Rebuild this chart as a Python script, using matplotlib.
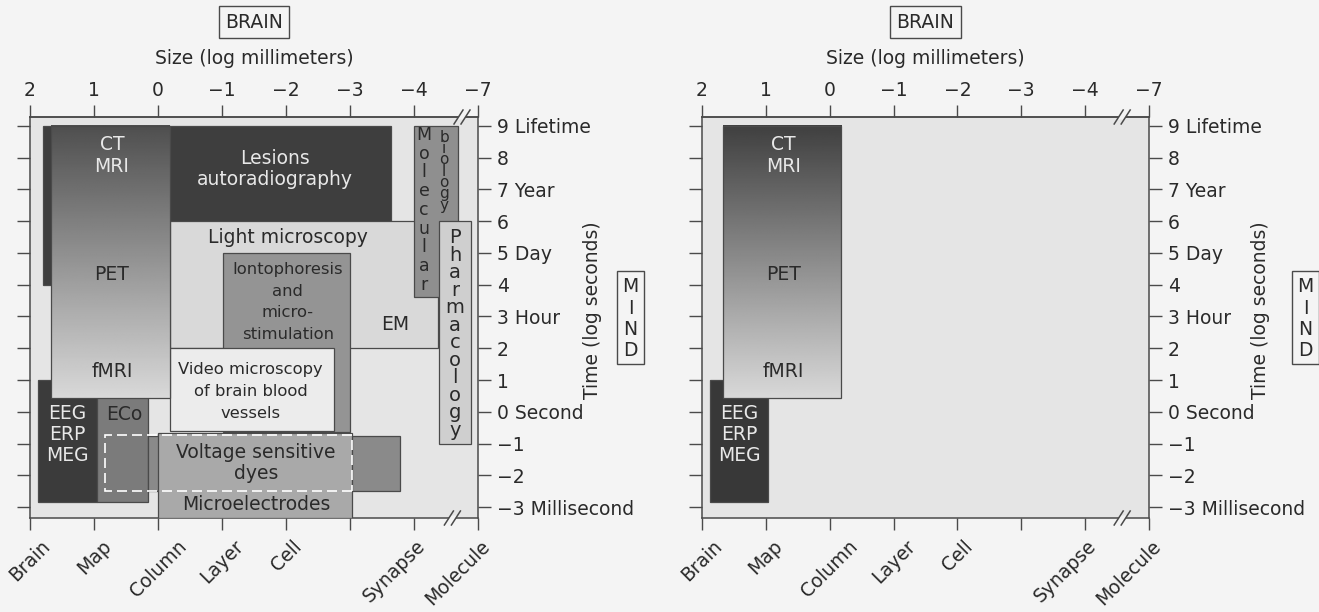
import numpy as np
import matplotlib
matplotlib.use("Agg")
import matplotlib.pyplot as plt
from matplotlib.patches import Rectangle, Polygon
from matplotlib.lines import Line2D
from matplotlib.font_manager import FontProperties
from matplotlib import transforms

plt.rcParams['font.family'] = ['DejaVu Sans']

# ---------------- data ----------------
size_ticks = [2, 1, 0, -1, -2, -3, -4, -5]
size_tick_labels = ['2', '1', '0', '\u22121', '\u22122', '\u22123', '\u22124', '\u22127']
scale_labels = ['Brain', 'Map', 'Column', 'Layer', 'Cell', '', 'Synapse', 'Molecule']
time_ticks = [9, 8, 7, 6, 5, 4, 3, 2, 1, 0, -1, -2, -3]
time_tick_labels = ['9 Lifetime', '8', '7 Year', '6', '5 Day', '4', '3 Hour', '2', '1',
                    '0 Second', '\u22121', '\u22122', '\u22123 Millisecond']

# techniques (left panel): size range (log mm) and time range (log s)
tech_names = ['Lesions', 'Light microscopy', 'EM', 'Molecular biology', 'Pharmacology',
              'Iontophoresis', 'Video microscopy', 'EEG', 'ECo', 'Voltage sensitive dyes',
              'Microelectrodes']
tech_size_max = [1.80, -0.18, -3.00, -4.00, -4.39, -1.02, -0.18, 1.87, 0.96, 0.16, 0.00]
tech_size_min = [-3.64, -4.375, -4.375, -4.69, -4.89, -3.00, -2.75, 0.96, 0.16, -3.78, -3.03]
tech_time_min = [4.0, 2.0, 2.0, 3.6, -1.0, -0.65, -0.62, -2.85, -2.85, -2.50, -3.35]
tech_time_max = [9.0, 6.0, 3.6, 9.0, 6.0, 5.0, 2.0, 1.0, 1.0, -0.76, -0.67]
tech_gray = ['#3e3e3e', '#d9d9d9', '#d9d9d9', '#8f8f8f', '#cfcfcf', '#949494', '#ececec',
             '#3b3b3b', '#7b7b7b', '#8a8a8a', '#a9a9a9']

# imaging (CT / MRI / PET / fMRI) range shared by both panels
imaging_size = (1.67, -0.18)
imaging_time = (0.43, 9.0)
# EEG range in the right panel
eeg_size = (1.87, 0.97)
eeg_time = (-2.85, 1.0)
# voltage-sensitive-dye dashed outline
vsd_outline_size = (0.83, -3.03)
vsd_outline_time = (-2.50, -0.73)

# ---------------- style ----------------
W, H = 1319, 612
FIG_BG = '#f4f4f4'
AX_BG = '#e5e5e5'
LINE = '#4a4a4a'
DARK_TXT = '#2a2a2a'
LIGHT_TXT = '#e8e8e8'
FS = 13.5
XLIM = (2, -5)
YLIM = (-3.346, 9.283)

fig = plt.figure(figsize=(W / 100, H / 100), dpi=100, facecolor=FIG_BG)
renderer = fig.canvas.get_renderer()

def spacing_for(fs, pitch_px):
    """matplotlib line pitch = descent + ascent * linespacing (metrics of 'lp')."""
    w, h, d = renderer.get_text_width_height_descent(
        'lp', FontProperties(family='DejaVu Sans', size=fs), ismath=False)
    return (pitch_px - d) / (h - d)

def make_axes(x0, x1):
    y_top, y_bot = 117, 518
    ax = fig.add_axes([x0 / W, (H - y_bot) / H, (x1 - x0) / W, (y_bot - y_top) / H])
    ax.set_facecolor(AX_BG)
    ax.set_xlim(*XLIM)
    ax.set_ylim(*YLIM)
    for s in ax.spines.values():
        s.set_color(LINE)
        s.set_linewidth(1.1)
    ax.set_xticks(size_ticks)
    ax.set_xticklabels(scale_labels, rotation=45, ha='center', fontsize=FS, color=DARK_TXT)
    ax.tick_params(axis='x', direction='out', length=8.5, width=1.0, color=LINE, pad=5)
    ax.set_yticks(time_ticks)
    ax.set_yticklabels(time_tick_labels, fontsize=FS, color=DARK_TXT)
    ax.tick_params(axis='y', direction='out', length=9.5, width=1.0, color=LINE,
                   left=True, right=True, labelleft=False, labelright=True, pad=4)
    for lab in ax.get_xticklabels()[-2:]:
        lab.set_transform(lab.get_transform() +
                          transforms.ScaledTranslation(-20 / 100, 0, fig.dpi_scale_trans))
    top = ax.secondary_xaxis('top')
    top.set_xticks(size_ticks)
    top.set_xticklabels(size_tick_labels, fontsize=FS, color=DARK_TXT)
    top.tick_params(axis='x', direction='out', length=8.5, width=1.0, color=LINE, pad=4)
    top.spines['top'].set_color(LINE)
    top.spines['top'].set_linewidth(1.1)
    return ax

def box(ax, s0, s1, t0, t1, fc, z, ec=LINE, lw=0.9, ls='-'):
    ax.add_patch(Rectangle((s1, t0), s0 - s1, t1 - t0, facecolor=fc, edgecolor=ec,
                           linewidth=lw, linestyle=ls, zorder=z))

def gradient_box(ax, s, t, z, top=0.29):
    grad = np.linspace(top, 0.85, 256).reshape(-1, 1)
    ax.imshow(grad, cmap='gray', vmin=0, vmax=1, aspect='auto', origin='upper',
              extent=(s[0], s[1], t[0], t[1]), interpolation='bilinear', zorder=z)
    box(ax, s[0], s[1], t[0], t[1], 'none', z + 0.1)
    ax.set_xlim(*XLIM)
    ax.set_ylim(*YLIM)

def text_lines(ax, x, y_base, txt, pitch_px=21.5, fs=FS, color=DARK_TXT):
    """One text object centred at x; y_base = baseline of the FIRST line (data units)."""
    n = txt.count('\n') + 1
    ppu = ax.bbox.height / (YLIM[1] - YLIM[0])
    y_last = y_base - (n - 1) * pitch_px / ppu      # va='baseline' anchors the last line
    ls = spacing_for(fs, pitch_px) if n > 1 else 1.2
    ax.text(x, y_last, txt, ha='center', va='baseline', multialignment='center',
            fontsize=fs, color=color, linespacing=ls, zorder=20)

def vertical(ax, x, y_base, word, pitch_px, fs):
    text_lines(ax, x, y_base, '\n'.join(word), pitch_px=pitch_px, fs=fs)

def break_mark(ax, x, yax):
    base = transforms.blended_transform_factory(ax.transData, ax.transAxes)
    px, py = base.transform((x, yax))
    tr = transforms.Affine2D().translate(px, py)
    gap = Polygon([(-5.1, -2.5), (1.9, -2.5), (5.1, 2.5), (-1.9, 2.5)], closed=True,
                  facecolor=FIG_BG, edgecolor='none', transform=tr, clip_on=False, zorder=50)
    fig.add_artist(gap)
    for c in (-3.5, 3.5):
        fig.add_artist(Line2D([c - 4.5, c + 4.5], [-7, 7], color=LINE, lw=1.1,
                              transform=tr, clip_on=False, zorder=51))

def decorations(x0, x1, time_x, mind_x0, mind_x1):
    cx = (x0 + x1) / 2
    fig.text(cx / W, 1 - 22 / H, 'BRAIN', ha='center', va='center', fontsize=FS,
             color=DARK_TXT,
             bbox=dict(boxstyle='square,pad=0.33', facecolor='none', edgecolor=LINE, lw=1.0))
    fig.text(cx / W, 1 - 58 / H, 'Size (log millimeters)', ha='center', va='center',
             fontsize=FS, color=DARK_TXT)
    fig.text(time_x / W, 1 - 310 / H, 'Time (log seconds)', ha='center', va='center',
             rotation=90, fontsize=FS, color=DARK_TXT)
    fig.add_artist(Rectangle((mind_x0 / W, 1 - 364 / H), (mind_x1 - mind_x0) / W, 93 / H,
                             transform=fig.transFigure, facecolor='none', edgecolor=LINE,
                             lw=1.0, clip_on=False))
    pitch = 21.5
    fig.text((mind_x0 + 13.5) / W, 1 - (292 + 3 * pitch) / H, 'M\nI\nN\nD', ha='center',
             va='baseline', fontsize=FS, color=DARK_TXT,
             linespacing=spacing_for(FS, pitch))

# ---------------- left panel ----------------
axL = make_axes(30, 478)
zorders = [1, 2, 1.5, 3, 4, 3, 4, 2, 2, 3, 4]
for i in range(len(tech_names)):
    ec = 'none' if tech_names[i] == 'EM' else LINE
    box(axL, tech_size_max[i], tech_size_min[i], tech_time_min[i], tech_time_max[i],
        tech_gray[i], zorders[i], ec=ec)
gradient_box(axL, imaging_size, imaging_time, 5, top=0.31)
box(axL, vsd_outline_size[0], vsd_outline_size[1], vsd_outline_time[0], vsd_outline_time[1],
    'none', 6, ec='white', lw=1.2, ls=(0, (6, 3)))

text_lines(axL, 0.72, 8.24, 'CT\nMRI', 22, color=LIGHT_TXT)
text_lines(axL, 0.72, 4.15, 'PET')
text_lines(axL, 0.72, 1.09, 'fMRI')
text_lines(axL, -1.83, 7.80, 'Lesions\nautoradiography', 21, color=LIGHT_TXT)
text_lines(axL, -2.03, 5.31, 'Light microscopy')
text_lines(axL, -2.03, 4.34, 'Iontophoresis\nand\nmicro-\nstimulation', 21.7, fs=11.8)
text_lines(axL, -3.70, 2.57, 'EM')
text_lines(axL, -1.45, 1.19, 'Video microscopy\nof brain blood\nvessels', 22, fs=11.8)
text_lines(axL, 1.42, -0.23, 'EEG\nERP\nMEG', 21, color=LIGHT_TXT)
text_lines(axL, 0.52, -0.26, 'ECo')
text_lines(axL, -1.53, -1.46, 'Voltage sensitive\ndyes', 21)
text_lines(axL, -1.53, -3.09, 'Microelectrodes')
vertical(axL, -4.16, 8.56, 'Molecular', 18.75, 12.5)
vertical(axL, -4.47, 8.50, 'biology', 11.3, 11)
vertical(axL, -4.64, 5.31, 'Pharmacology', 17.5, 14)

decorations(30, 478, 592, 617, 644)
break_mark(axL, -4.75, 1.0)
break_mark(axL, -4.60, 0.0)

# ---------------- right panel ----------------
axR = make_axes(702, 1149)
box(axR, eeg_size[0], eeg_size[1], eeg_time[0], eeg_time[1], '#383838', 2)
gradient_box(axR, imaging_size, imaging_time, 5, top=0.25)
text_lines(axR, 0.72, 8.24, 'CT\nMRI', 22, color=LIGHT_TXT)
text_lines(axR, 0.72, 4.15, 'PET')
text_lines(axR, 0.72, 1.09, 'fMRI')
text_lines(axR, 1.42, -0.23, 'EEG\nERP\nMEG', 21, color=LIGHT_TXT)
decorations(702, 1149, 1261, 1292, 1319)
break_mark(axR, -4.58, 1.0)
break_mark(axR, -4.58, 0.0)

fig.savefig('out.png', dpi=100, facecolor=FIG_BG)
